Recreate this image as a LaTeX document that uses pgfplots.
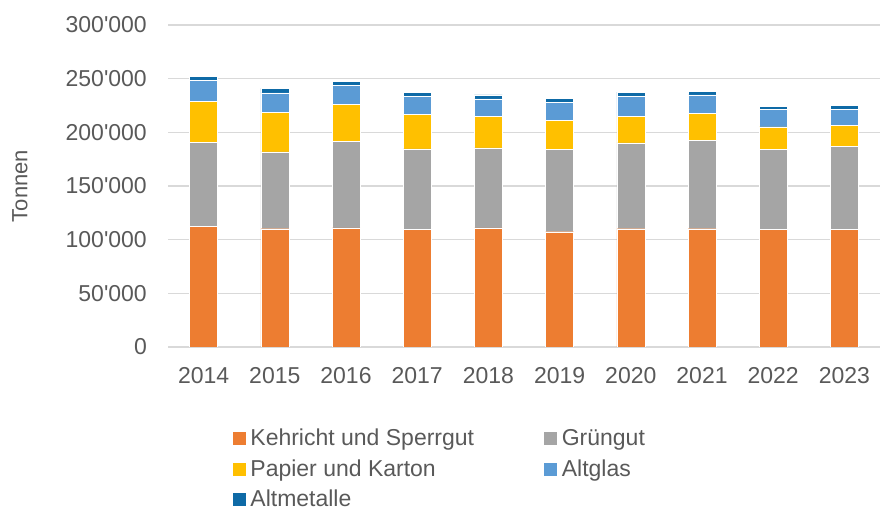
\documentclass[border=0pt]{standalone}
\usepackage{pgfplots}
\pgfplotsset{compat=1.18}
\usepackage{fontspec}
\setmainfont{Liberation Sans}
\definecolor{cK}{HTML}{ED7D31}
\definecolor{cG}{HTML}{A5A5A5}
\definecolor{cP}{HTML}{FFC000}
\definecolor{cA}{HTML}{5B9BD5}
\definecolor{cM}{HTML}{0E6AA6}
\definecolor{txt}{HTML}{595959}
\definecolor{grd}{HTML}{D9D9D9}
\begin{document}
\begin{tikzpicture}
\useasboundingbox (0,0) rectangle (881bp,513bp);
\begin{axis}[
  at={(168bp,166bp)}, anchor=south west,
  scale only axis, width=712bp, height=322bp,
  ybar stacked, bar width=28bp,
  xmin=-0.5, xmax=9.5, ymin=0, ymax=300000,
  xtick=data,
  xticklabels={2014,2015,2016,2017,2018,2019,2020,2021,2022,2023},
  ytick={0,50000,100000,150000,200000,250000,300000},
  scaled y ticks=false,
  /pgf/number format/.cd, fixed, 1000 sep={\textquotesingle}, assume math mode=true, /pgfplots/.cd,
  ymajorgrids, grid style={grd, line width=1.3pt},
  axis lines=left, axis line style={-},
  y axis line style={draw=none},
  x axis line style={draw=grd, line width=1.3pt},
  major tick length=0pt,
  tick label style={font=\fontsize{23bp}{28bp}\selectfont, text=txt, inner sep=0pt},
  yticklabel style={anchor=east, xshift=-21bp},
  xticklabel style={anchor=north, yshift=-20bp},
  ylabel={Tonnen},
  every axis y label/.style={at={(axis description cs:0,0.5)}, rotate=90, anchor=center, yshift=148bp, font=\fontsize{22bp}{26bp}\selectfont, text=txt},
  legend columns=2,
  legend cell align=left,
  legend style={at={(rel axis cs:0.0899,-0.257)}, anchor=north west, draw=none, fill=none, inner sep=0pt, outer sep=0pt,
    font=\fontsize{23bp}{28bp}\selectfont, text=txt, row sep=13bp,
    nodes={inner sep=0pt, text height=16bp, text depth=1.5bp},
    /tikz/every odd column/.append style={column sep=4bp}},
  legend image code/.code={\fill[#1] (0bp,-7bp) rectangle (14bp,7bp);},
]
\addplot[fill=cK, draw=white, line width=0.4pt] coordinates {(0,112400) (1,110200) (2,111100) (3,109900) (4,111100) (5,107400) (6,110200) (7,110200) (8,109900) (9,109900)};
\addplot[fill=cG, draw=white, line width=0.4pt] coordinates {(0,78100) (1,71600) (2,80600) (3,74600) (4,74400) (5,76600) (6,79900) (7,82400) (8,74100) (9,76900)};
\addplot[fill=cP, draw=white, line width=0.4pt] coordinates {(0,38500) (1,36700) (2,34500) (3,32400) (4,29300) (5,27100) (6,25000) (7,25000) (8,21200) (9,19700)};
\addplot[fill=cA, draw=white, line width=0.4pt] coordinates {(0,19400) (1,18200) (2,17600) (3,16700) (4,16300) (5,17000) (6,18100) (7,17200) (8,16400) (9,15100)};
\addplot[fill=cM, draw=white, line width=0.4pt] coordinates {(0,3700) (1,4300) (2,3700) (3,3700) (4,3700) (5,3700) (6,4300) (7,3400) (8,2800) (9,3400)};
\legend{\makebox[293bp][l]{Kehricht und Sperrgut}, Grüngut, \makebox[293bp][l]{Papier und Karton}, Altglas, Altmetalle}
\end{axis}
\end{tikzpicture}
\end{document}
